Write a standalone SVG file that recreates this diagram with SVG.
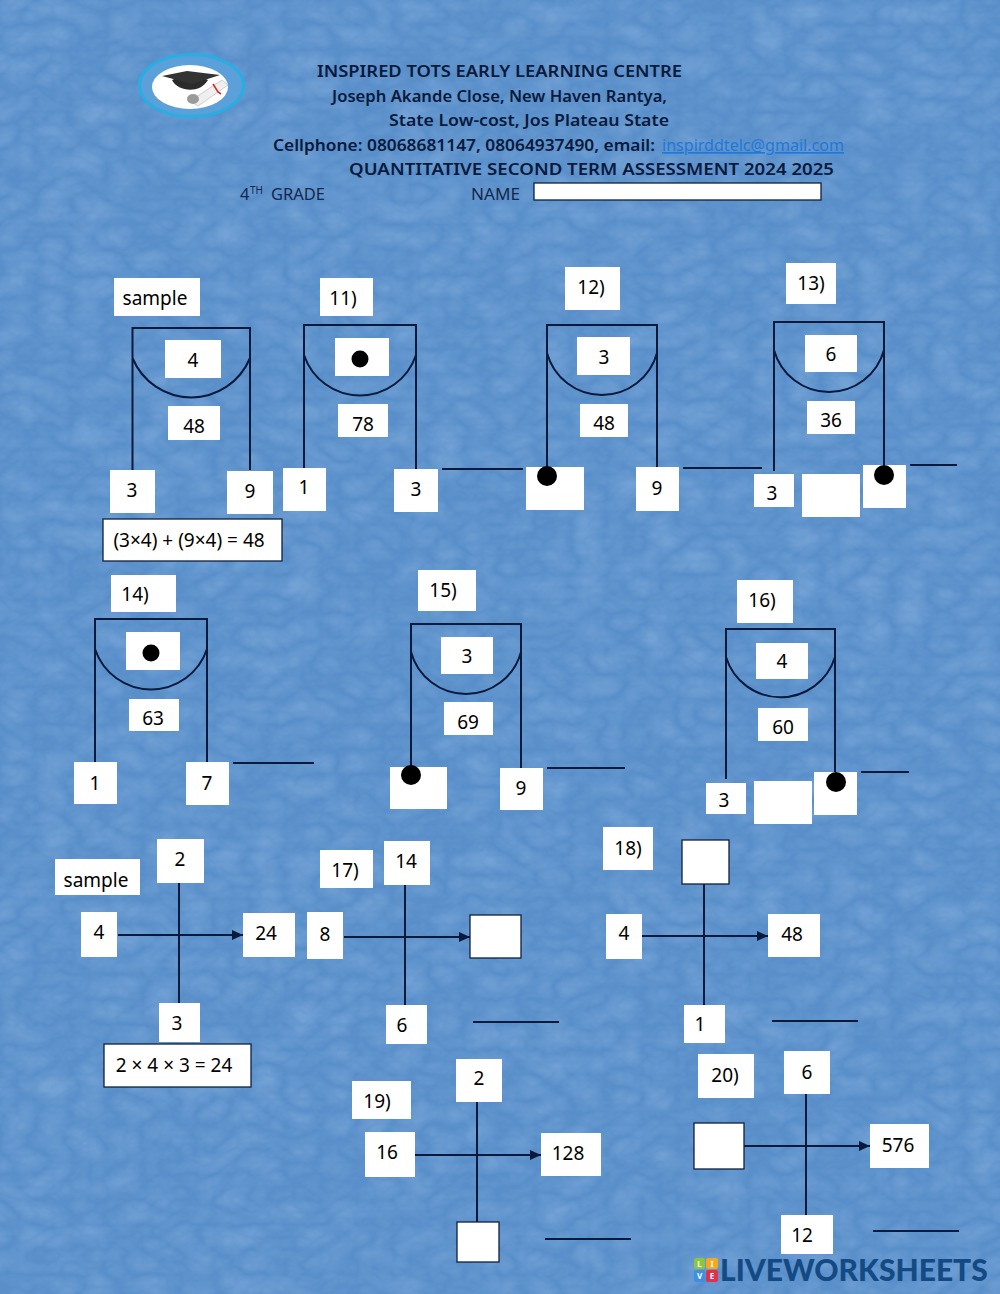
<svg xmlns="http://www.w3.org/2000/svg" width="1000" height="1294" viewBox="0 0 1000 1294">
<style>
text{font-family:"Noto Sans","Open Sans","DejaVu Sans",sans-serif;fill:#000;text-anchor:middle;font-size:19px}
g[id^=s] text,g[id^=q] text{transform:translateY(1px)}
.b{fill:#fff}
.o{fill:#fff;stroke:#10203c;stroke-width:1.3}
.l{fill:none;stroke:#0a1a3c;stroke-width:2}
.d{fill:#000}
.h{font-size:16.5px;font-weight:600;fill:#0a1a3c;text-anchor:start}
.g{font-size:16.5px;fill:#15274a;text-anchor:start}
.t{font-size:8px;font-weight:700;fill:#fff}
</style>
<defs>
<filter id="tex" x="0" y="0" width="100%" height="100%">
<feTurbulence type="turbulence" baseFrequency="0.028 0.04" numOctaves="3" seed="11"/>
<feColorMatrix type="matrix" values="0 0 0 0 0.6  0 0 0 0 0.78  0 0 0 0 1  1.2 0 0 0 -0.05"/>
</filter>
<marker id="arrow" markerUnits="userSpaceOnUse" markerWidth="11" markerHeight="10" refX="11" refY="5" orient="auto"><path d="M0 0L11 5L0 10Z" fill="#0a1a3c"/></marker>
</defs>
<rect width="1000" height="1294" fill="#588ec9"/>
<rect width="1000" height="1294" filter="url(#tex)" opacity=".24"/>

<g id="logo">
<ellipse cx="191.500" cy="85.500" rx="52" ry="31" fill="#5ba0d8" stroke="#27aee3" stroke-width="3"/>
<ellipse cx="190" cy="87" rx="38" ry="22" fill="#fff"/>
<path d="M190 101L222 80L228 85L198 106Z" fill="#efefef" stroke="#bbb" stroke-width=".7"/>
<path d="M213 84L218 92L221 94" stroke="#c8322c" stroke-width="1.600" fill="none"/>
<ellipse cx="193" cy="99" rx="6" ry="5" fill="#9a9a9a"/>
<path d="M172 80C178 92 200 94 208 80L190 72Z" fill="#2b2b2b"/>
<path d="M162 76L187 71L220 75L192 84Z" fill="#333"/>
</g>

<g id="header">
<text class="h" x="317" y="77" textLength="365" lengthAdjust="spacingAndGlyphs">INSPIRED TOTS EARLY LEARNING CENTRE</text>
<text class="h" x="332" y="102" textLength="335" lengthAdjust="spacingAndGlyphs">Joseph Akande Close, New Haven Rantya,</text>
<text class="h" x="389" y="126" textLength="280" lengthAdjust="spacingAndGlyphs">State Low-cost, Jos Plateau State</text>
<text class="h" x="273" y="151" textLength="382" lengthAdjust="spacingAndGlyphs">Cellphone: 08068681147, 08064937490, email:</text>
<text class="h" x="662" y="151" textLength="182" lengthAdjust="spacingAndGlyphs" style="fill:#1f78d8;font-weight:400" text-decoration="underline">inspirddtelc@gmail.com</text>
<text class="h" x="349" y="175" textLength="485" lengthAdjust="spacingAndGlyphs">QUANTITATIVE SECOND TERM ASSESSMENT 2024 2025</text>
<text class="g" x="240" y="200">4</text>
<text class="g" x="250" y="194" style="font-size:10px">TH</text>
<text class="g" x="271" y="200" textLength="54" lengthAdjust="spacingAndGlyphs">GRADE</text>
<text class="g" x="471" y="200" textLength="49" lengthAdjust="spacingAndGlyphs">NAME</text>
<rect class="o" x="534" y="183" width="287" height="17"/>
</g>

<g id="connectors">
<path class="l" d="M132.500 470V328H250V470M132.500 358A63.500 63.500 0 0 0 250 358"/>
<path class="l" d="M304 468V325H416V469M304 355A59 59 0 0 0 416 355"/>
<path class="l" d="M547 467V325H657V467M547 353A57 57 0 0 0 657 353"/>
<path class="l" d="M774 471V322H884V465M774 350A57 57 0 0 0 884 350"/>
<path class="l" d="M95 762V619H207V762M95 649A59 59 0 0 0 207 649"/>
<path class="l" d="M411 767V624H521V768M411 652A57 57 0 0 0 521 652"/>
<path class="l" d="M726 779V629H835V772M726 657A57 57 0 0 0 835 657"/>
<path class="l" d="M442 469H523M683 468H762M910 465H957M233 763H314M547 768H625M861 772H909M473 1022H559M772 1021H858M545 1239H631M873 1231H959"/>
<path class="l" d="M179 883V1003M405 885V1005M704 884V1005M477 1102V1222M806 1094V1215"/>
<path class="l" d="M118 935H243" marker-end="url(#arrow)"/>
<path class="l" d="M344 937H470" marker-end="url(#arrow)"/>
<path class="l" d="M642 936H768" marker-end="url(#arrow)"/>
<path class="l" d="M415 1155H541" marker-end="url(#arrow)"/>
<path class="l" d="M744 1146H870" marker-end="url(#arrow)"/>
</g>

<g id="s1-label"><rect class="b" x="114" y="278" width="86" height="38"/><text x="155" y="304">sample</text></g>
<g id="s1-inner"><rect class="b" x="165" y="340" width="56" height="38"/><text x="193" y="366">4</text></g>
<g id="s1-total"><rect class="b" x="168" y="406" width="52" height="34"/><text x="194" y="432">48</text></g>
<g id="s1-left"><rect class="b" x="110" y="470" width="45" height="43"/><text x="132" y="496">3</text></g>
<g id="s1-right"><rect class="b" x="227" y="471" width="46" height="43"/><text x="250" y="497">9</text></g>
<g id="s1-formula"><rect class="o" x="103" y="519" width="179" height="42"/><text x="189" y="546">(3×4) + (9×4) = 48</text></g>

<g id="q11-label"><rect class="b" x="320" y="278" width="53" height="38"/><text x="343" y="304">11)</text></g>
<g id="q11-inner"><rect class="b" x="335" y="338" width="54" height="38"/><circle class="d" cx="360" cy="359" r="8.500"/></g>
<g id="q11-total"><rect class="b" x="338" y="404" width="50" height="33"/><text x="363" y="430">78</text></g>
<g id="q11-left"><rect class="b" x="283" y="468" width="43" height="43"/><text x="304" y="493">1</text></g>
<g id="q11-right"><rect class="b" x="394" y="469" width="44" height="43"/><text x="416" y="495">3</text></g>

<g id="q12-label"><rect class="b" x="565" y="267" width="55" height="43"/><text x="591" y="293">12)</text></g>
<g id="q12-inner"><rect class="b" x="577" y="337" width="53" height="38"/><text x="604" y="363">3</text></g>
<g id="q12-total"><rect class="b" x="580" y="404" width="48" height="33"/><text x="604" y="429">48</text></g>
<g id="q12-left"><rect class="b" x="526" y="467" width="58" height="43"/><circle class="d" cx="547" cy="476" r="10"/></g>
<g id="q12-right"><rect class="b" x="636" y="467" width="43" height="44"/><text x="657" y="494">9</text></g>

<g id="q13-label"><rect class="b" x="786" y="263" width="50" height="41"/><text x="811" y="289">13)</text></g>
<g id="q13-inner"><rect class="b" x="805" y="335" width="52" height="37"/><text x="831" y="360">6</text></g>
<g id="q13-total"><rect class="b" x="807" y="401" width="48" height="33"/><text x="831" y="426">36</text></g>
<g id="q13-left"><rect class="b" x="754" y="474" width="40" height="33"/><text x="772" y="499">3</text></g>
<g id="q13-blank"><rect class="b" x="802" y="474" width="58" height="43"/></g>
<g id="q13-right"><rect class="b" x="863" y="465" width="43" height="43"/><circle class="d" cx="884" cy="475" r="10"/></g>

<g id="q14-label"><rect class="b" x="111" y="575" width="65" height="37"/><text x="135" y="600">14)</text></g>
<g id="q14-inner"><rect class="b" x="126" y="632" width="54" height="38"/><circle class="d" cx="151" cy="653" r="8.500"/></g>
<g id="q14-total"><rect class="b" x="129" y="699" width="50" height="32"/><text x="153" y="724">63</text></g>
<g id="q14-left"><rect class="b" x="74" y="762" width="43" height="42"/><text x="95" y="789">1</text></g>
<g id="q14-right"><rect class="b" x="186" y="762" width="43" height="43"/><text x="207" y="789">7</text></g>

<g id="q15-label"><rect class="b" x="418" y="570" width="58" height="41"/><text x="443" y="596">15)</text></g>
<g id="q15-inner"><rect class="b" x="441" y="637" width="52" height="37"/><text x="467" y="662">3</text></g>
<g id="q15-total"><rect class="b" x="444" y="702" width="49" height="33"/><text x="468" y="728">69</text></g>
<g id="q15-left"><rect class="b" x="390" y="767" width="57" height="42"/><circle class="d" cx="411" cy="775" r="10"/></g>
<g id="q15-right"><rect class="b" x="500" y="768" width="43" height="42"/><text x="521" y="794">9</text></g>

<g id="q16-label"><rect class="b" x="737" y="580" width="56" height="43"/><text x="762" y="606">16)</text></g>
<g id="q16-inner"><rect class="b" x="756" y="643" width="52" height="36"/><text x="782" y="667">4</text></g>
<g id="q16-total"><rect class="b" x="758" y="708" width="50" height="33"/><text x="783" y="733">60</text></g>
<g id="q16-left"><rect class="b" x="706" y="783" width="40" height="31"/><text x="724" y="806">3</text></g>
<g id="q16-blank"><rect class="b" x="754" y="781" width="58" height="43"/></g>
<g id="q16-right"><rect class="b" x="814" y="772" width="43" height="43"/><circle class="d" cx="836" cy="782" r="10"/></g>

<g id="s2-label"><rect class="b" x="55" y="859" width="85" height="36"/><text x="96" y="886">sample</text></g>
<g id="s2-top"><rect class="b" x="157" y="839" width="47" height="44"/><text x="180" y="865">2</text></g>
<g id="s2-left"><rect class="b" x="81" y="912" width="36" height="45"/><text x="99" y="938">4</text></g>
<g id="s2-right"><rect class="b" x="243" y="913" width="52" height="44"/><text x="266" y="939">24</text></g>
<g id="s2-bottom"><rect class="b" x="159" y="1003" width="41" height="39"/><text x="177" y="1029">3</text></g>
<g id="s2-formula"><rect class="o" x="104" y="1044" width="147" height="43"/><text x="174" y="1071">2 × 4 × 3 = 24</text></g>

<g id="q17-label"><rect class="b" x="320" y="850" width="53" height="38"/><text x="345" y="876">17)</text></g>
<g id="q17-top"><rect class="b" x="384" y="841" width="46" height="44"/><text x="406" y="867">14</text></g>
<g id="q17-left"><rect class="b" x="307" y="912" width="36" height="47"/><text x="325" y="940">8</text></g>
<g id="q17-right"><rect class="o" x="470" y="915" width="51" height="43"/></g>
<g id="q17-bottom"><rect class="b" x="386" y="1005" width="41" height="39"/><text x="402" y="1031">6</text></g>

<g id="q18-label"><rect class="b" x="603" y="827" width="50" height="43"/><text x="628" y="854">18)</text></g>
<g id="q18-top"><rect class="o" x="682" y="840" width="47" height="44"/></g>
<g id="q18-left"><rect class="b" x="606" y="914" width="36" height="45"/><text x="624" y="939">4</text></g>
<g id="q18-right"><rect class="b" x="768" y="914" width="52" height="43"/><text x="792" y="940">48</text></g>
<g id="q18-bottom"><rect class="b" x="684" y="1005" width="41" height="38"/><text x="700" y="1030">1</text></g>

<g id="q19-label"><rect class="b" x="352" y="1081" width="59" height="38"/><text x="377" y="1107">19)</text></g>
<g id="q19-top"><rect class="b" x="456" y="1059" width="46" height="43"/><text x="479" y="1084">2</text></g>
<g id="q19-left"><rect class="b" x="365" y="1132" width="50" height="45"/><text x="387" y="1158">16</text></g>
<g id="q19-right"><rect class="b" x="541" y="1133" width="60" height="43"/><text x="568" y="1159">128</text></g>
<g id="q19-bottom"><rect class="o" x="457" y="1222" width="42" height="40"/></g>

<g id="q20-label"><rect class="b" x="698" y="1054" width="56" height="44"/><text x="725" y="1081">20)</text></g>
<g id="q20-top"><rect class="b" x="784" y="1051" width="46" height="43"/><text x="807" y="1078">6</text></g>
<g id="q20-left"><rect class="o" x="694" y="1123" width="50" height="46"/></g>
<g id="q20-right"><rect class="b" x="870" y="1124" width="59" height="44"/><text x="898" y="1151">576</text></g>
<g id="q20-bottom"><rect class="b" x="781" y="1215" width="52" height="39"/><text x="802" y="1241">12</text></g>

<g id="liveworksheets">
<rect x="694" y="1258" width="11" height="11" rx="2" fill="#8cc63f"/>
<rect x="706" y="1258" width="12" height="11" rx="2" fill="#f5a81f"/>
<rect x="694" y="1270" width="11" height="12" rx="2" fill="#3f8fe0"/>
<rect x="706" y="1270" width="12" height="12" rx="2" fill="#e0304f"/>
<text class="t" x="699.500" y="1267">L</text>
<text class="t" x="712" y="1267">I</text>
<text class="t" x="699.500" y="1279">V</text>
<text class="t" x="712" y="1279">E</text>
<text x="720" y="1281" style="font-family:'Lato','Liberation Sans',sans-serif;font-size:30px;font-weight:900;fill:#134a83;text-anchor:start">LIVEWORKSHEETS</text>
</g>
</svg>
